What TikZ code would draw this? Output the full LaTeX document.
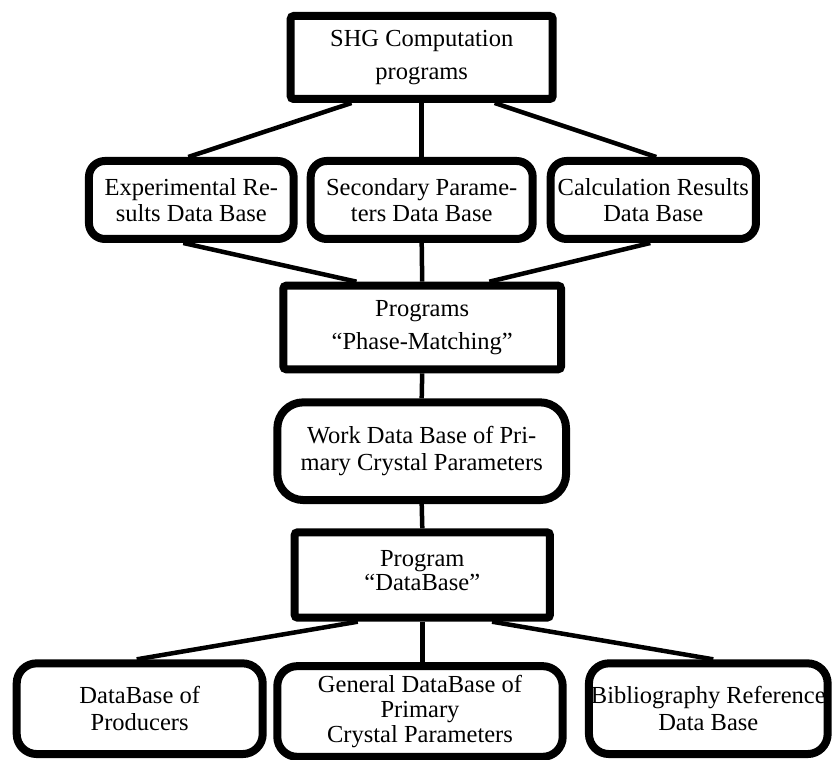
\documentclass[tikz,border=0pt]{standalone}
\usepackage{fontspec}
\setmainfont{Liberation Serif}
\usetikzlibrary{calc,backgrounds}
\begin{document}
\begin{tikzpicture}[x=1pt,y=1pt,
 box/.style={draw, line width=8pt, fill=white, inner sep=0pt, align=center, font=\fontsize{24.5}{26.5}\selectfont},
 sqbox/.style={box, rounded corners=3pt},
 rbox/.style={box, rounded corners=16pt},
 conn/.style={line width=4.5pt}]
\useasboundingbox (0,0) rectangle (833,760);
% top
\node[sqbox, minimum width=262pt, minimum height=83pt, font=\fontsize{24.5}{33}\selectfont] (shg) at (421.7,702.5) {SHG Computation\\programs};
% row 2
\node[rbox, minimum width=204.7pt, minimum height=78pt] (exp) at (191.3,560) {Experimental Re-\\sults Data Base};
\node[rbox, minimum width=222pt, minimum height=78pt] (sec) at (421.7,560) {Secondary Parame-\\ters Data Base};
\node[rbox, minimum width=205.3pt, minimum height=78pt] (calc) at (653.3,560) {Calculation Results\\Data Base};
% programs
\node[sqbox, minimum width=277.7pt, minimum height=83.6pt, font=\fontsize{24.5}{33}\selectfont] (prog) at (422.2,432.5) {Programs\\``Phase-Matching''};
% work
\node[box, rounded corners=26pt, minimum width=288.7pt, minimum height=97.7pt] (work) at (421.7,308.8) {Work Data Base of Pri-\\mary Crystal Parameters};
% program database
\node[sqbox, minimum width=255.3pt, minimum height=85.4pt] (pdb) at (422.3,185) {};
\node[font=\fontsize{24.5}{24}\selectfont, align=center, inner sep=0pt] (pdbt) at (422.3,189) {Program\\``DataBase''};
% bottom
\node[box, rounded corners=20pt, minimum width=246pt, minimum height=90.7pt] (prod) at (139.7,51.3) {DataBase of\\Producers};
\node[box, rounded corners=20pt, minimum width=285.4pt, minimum height=90.7pt, font=\fontsize{24.5}{25}\selectfont] (gen) at (420,48.5) {General DataBase of\\Primary\\Crystal Parameters};
\node[box, rounded corners=20pt, minimum width=238.7pt, minimum height=90.7pt] (bib) at (708.3,51.3) {Bibliography Reference\\Data Base};
\begin{scope}[on background layer]
\draw[conn] ($(shg.south)!0.52!(shg.south west)$) -- ($(exp.north)+(-3,0)$);
\draw[conn] (shg.south) -- (sec.north);
\draw[conn] ($(shg.south)!0.54!(shg.south east)$) -- ($(calc.north)+(3,0)$);
\draw[conn] ($(exp.south)+(-8,0)$) -- ($(prog.north)!0.46!(prog.north west)$);
\draw[conn] (sec.south) -- (prog.north);
\draw[conn] ($(calc.south)+(-3,0)$) -- ($(prog.north)!0.47!(prog.north east)$);
\draw[conn] (prog.south) -- (work.north);
\draw[conn] (work.south) -- (pdb.north);
\draw[conn] ($(pdb.south)!0.49!(pdb.south west)$) -- ($(prod.north)+(-3,0)$);
\draw[conn] (pdb.south) -- (pdb.south |- gen.north);
\draw[conn] ($(pdb.south)!0.53!(pdb.south east)$) -- ($(bib.north)+(5,0)$);
\end{scope}
\end{tikzpicture}
\end{document}
